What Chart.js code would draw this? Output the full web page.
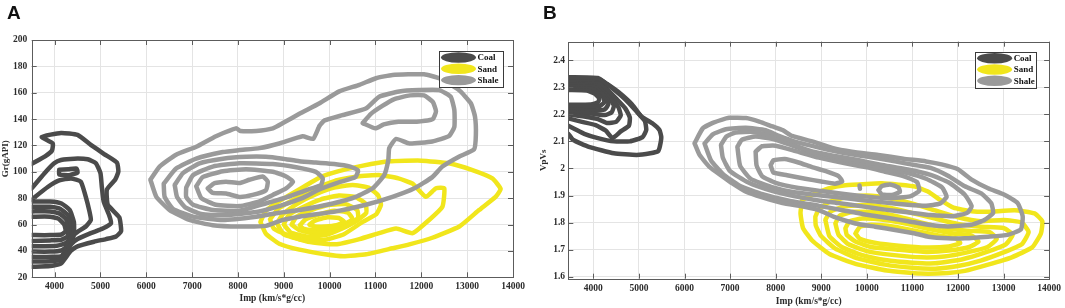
<!DOCTYPE html>
<html><head><meta charset="utf-8">
<script src="https://cdn.jsdelivr.net/npm/chart.js@4.4.1/dist/chart.umd.min.js"></script>
<style>
html,body{margin:0;padding:0;background:#fff;overflow:hidden}
#wrap{position:relative;width:1065px;height:308px;background:#fff}
canvas{position:absolute;top:0}
#cA{left:0}
#cB{left:530px}
</style></head><body>
<div id="wrap"><canvas id="cA" width="530" height="308"></canvas><canvas id="cB" width="535" height="308"></canvas></div>
<script>
// ---------- data ----------
const groups = ['Coal', 'Sand', 'Shale'];
const xTicks = [4000, 5000, 6000, 7000, 8000, 9000, 10000, 11000, 12000, 13000, 14000];
const yTicksA = [20, 40, 60, 80, 100, 120, 140, 160, 180, 200];
const yTicksB = [1.6, 1.7, 1.8, 1.9, 2.0, 2.1, 2.2, 2.3, 2.4];
const xTitle = 'Imp (km/s*g/cc)';
const yTitleA = 'Gr(gAPI)';
const yTitleB = 'VpVs';

// Panel A - Coal contours [Imp, Gr]
const coalA1 = [[3500,106],[3800,112],[3940,116],[3960,121.5],[3720,126.5],[4140,129.5],[4500,128],[4790,120.5],[5080,113.5],[5360,107],[5390,100],[5320,94],[5140,86.5],[5160,75],[5410,65.5],[5450,55],[5340,51],[5120,49],[4860,47],[4500,43.5],[4350,40],[4140,30.5],[3900,28.5],[3500,28]];
const coalA2 = [[3500,87.5],[3780,99],[3990,106.5],[4140,109],[4430,110],[4720,109.5],[4900,106.5],[5000,99],[5030,88.5],[5070,77.5],[5190,67],[5230,61],[5050,57],[4790,53.5],[4500,49],[4360,45],[4250,38],[4100,33],[3800,32],[3500,32]];
const coalA3 = [[4100,101.5],[4300,102],[4480,102.5],[4500,99.5],[4320,97.5],[4100,98],[4100,101.5]];
const coalA4 = [[3500,79],[3850,88.5],[4100,93.5],[4360,95],[4570,92.5],[4680,81],[4760,70],[4790,63.5],[4680,58.5],[4500,54.5],[4360,50.5],[4250,42],[4150,36],[3950,35.5],[3500,35.5]];
const coalA5 = [[3500,77.5],[3900,77.5],[4150,76],[4330,71],[4420,62],[4420,52],[4330,45],[4150,40.5],[3900,39.5],[3500,39.5]];
const coalA6 = [[3500,73.5],[3900,73.5],[4120,72],[4290,67],[4370,59],[4360,50.5],[4250,46],[4050,44],[3500,43.5]];
const coalA7 = [[3500,70],[3900,70],[4100,68.5],[4250,64],[4310,57],[4280,51],[4150,48.5],[3900,48],[3500,47.5]];
const coalA8 = [[3500,66],[3900,66],[4080,64.5],[4210,60],[4240,55],[4150,52.5],[3900,52],[3500,52]];

// Panel A - Sand contours
const sandA1 = [[8490,62],[8600,70],[8800,75.5],[9100,82],[9400,88],[9800,96],[10200,100.5],[10700,104.5],[11300,108],[12000,108.5],[12600,106.5],[13100,101.5],[13550,95],[13730,87],[13620,81],[13260,71],[12830,58.5],[12240,50],[11740,45],[11370,42],[10800,37.5],[10300,36],[9900,37.5],[9340,41],[8900,45.5],[8610,53],[8490,62]];
const sandA2 = [[8700,64],[8880,72],[9300,80.5],[9700,87.5],[10100,93],[10600,96.5],[11100,97.5],[11500,95],[11810,91],[12100,81],[12320,87.5],[12500,87.5],[12460,73.5],[12170,63.5],[11810,53.5],[11450,57],[11080,53.5],[10650,49],[10130,45],[9530,47],[9090,52],[8780,57],[8700,64]];
const sandA3 = [[8850,61],[8980,68],[9300,76],[9700,83],[10100,88],[10500,90],[10850,88],[11060,82],[11120,75],[11020,68],[10720,62],[10300,52.5],[9900,48.5],[9400,48.5],[9000,52.5],[8850,61]];
const sandA4 = [[9000,60],[9100,67],[9400,73],[9800,79],[10200,82],[10550,81],[10780,76],[10800,69],[10600,63],[10300,57.5],[9900,52],[9500,51],[9150,54],[9000,60]];
const sandA5 = [[9170,60],[9280,66],[9600,71],[10000,75],[10350,75.5],[10600,71],[10620,65],[10400,60],[10050,55],[9650,53.5],[9330,56],[9170,60]];
const sandA6 = [[9350,59.5],[9480,64],[9800,68],[10100,70.5],[10400,69],[10500,64],[10300,60],[10000,57],[9650,56],[9420,57],[9350,59.5]];
const sandA7 = [[9560,60],[9680,63],[9950,65.5],[10200,65],[10320,62],[10150,59.5],[9900,58.5],[9680,58.5],[9560,60]];

// Panel A - Shale contours
const shaleA1 = [[6090,94],[6290,104],[6650,113],[7090,119],[7520,127],[7960,133],[8050,131],[8400,131],[8760,133],[8980,137],[9340,144],[9780,152],[10210,161],[10650,166],[11010,171],[11370,173.5],[12060,174],[12390,171],[12820,162],[13080,152],[13170,142],[13190,128],[13150,117],[12820,111.5],[12460,104],[12240,96],[11850,87.5],[11370,81],[10790,75],[10140,70],[9340,66],[8980,63.5],[8610,59],[8030,58.5],[7450,59.5],[6940,63.5],[6510,71],[6220,81],[6090,94]];
const shaleA2 = [[6380,91],[6650,102.5],[7090,110],[7670,115],[8030,116.5],[8470,118],[8900,121.5],[9410,127],[9640,125],[9780,135],[9890,139],[10280,143],[10790,148],[11080,157],[11520,161],[11950,162],[12390,162],[12640,157],[12720,147],[12720,134],[12600,127],[12240,123],[11740,121.5],[11450,125],[11300,118],[11280,109],[11190,97.5],[10940,87.5],[10570,81],[10070,76],[9340,71],[8900,69],[8400,66],[7670,63.5],[7020,66],[6580,72],[6400,81],[6380,91]];
const shaleA3 = [[10720,137],[10900,144],[11150,150],[11400,155],[11750,158],[12060,158],[12250,153],[12320,146],[12250,140],[11900,138],[11500,138],[11180,136],[11000,133],[10720,137]];
const shaleA4 = [[6620,90],[6800,99],[7160,106.5],[7670,110],[8180,111.5],[8610,111.5],[8980,110],[9340,108],[9700,107],[10100,106],[10450,104],[10620,101],[10560,96],[10200,92],[9800,87],[9400,80],[8900,74],[8400,69.5],[7670,67],[7200,68],[6850,73],[6670,81],[6620,90]];
const shaleA5 = [[6870,88],[7020,97.5],[7450,104],[8030,106.5],[8760,106],[9270,103.5],[9700,100],[9850,95],[9810,90],[9480,86],[9000,80],[8600,76],[8030,70.5],[7450,71],[7020,75],[6870,81],[6870,88]];
const shaleA6 = [[7090,89],[7230,96],[7670,100.5],[8180,102],[8760,100],[9050,96.5],[9200,92.5],[9050,87.5],[8760,82.5],[8470,77.5],[8030,74],[7520,75],[7200,80],[7090,89]];
const shaleA7 = [[7340,87.5],[7490,91.5],[7740,92.5],[8030,91.5],[8250,94],[8540,96.5],[8650,92.5],[8610,86],[8320,82.5],[8030,81],[7740,83.5],[7450,84],[7340,87.5]];

// Panel B - Coal contours [Imp, VpVs]
const coalB1 = [[3450,2.337],[4100,2.334],[4300,2.312],[4550,2.282],[4850,2.236],[5050,2.192],[5300,2.166],[5450,2.142],[5490,2.116],[5460,2.082],[5420,2.064],[5250,2.056],[4950,2.05],[4450,2.056],[3900,2.08],[3560,2.105],[3450,2.128]];
const coalB2 = [[3450,2.331],[4150,2.328],[4400,2.298],[4700,2.255],[4950,2.21],[5130,2.175],[5160,2.142],[5080,2.116],[4800,2.1],[4450,2.1],[4100,2.112],[3800,2.128],[3600,2.145],[3450,2.158]];
const coalB3 = [[3450,2.325],[4100,2.322],[4300,2.292],[4500,2.258],[4700,2.222],[4800,2.188],[4780,2.158],[4600,2.137],[4420,2.112],[4270,2.14],[4050,2.16],[3750,2.172],[3450,2.185]];
const coalB4 = [[3450,2.318],[4050,2.316],[4250,2.29],[4400,2.26],[4550,2.226],[4600,2.196],[4500,2.172],[4300,2.168],[4100,2.182],[3800,2.192],[3450,2.2]];
const coalB5 = [[3450,2.311],[4000,2.309],[4200,2.288],[4350,2.26],[4450,2.232],[4400,2.207],[4250,2.197],[4000,2.202],[3450,2.21]];
const coalB6 = [[3450,2.304],[3950,2.302],[4150,2.286],[4280,2.262],[4330,2.238],[4250,2.218],[4000,2.214],[3450,2.218]];
const coalB7 = [[3450,2.297],[3900,2.295],[4100,2.282],[4220,2.262],[4240,2.244],[4130,2.23],[3900,2.226],[3450,2.226]];
const coalB8 = [[3450,2.29],[3850,2.288],[4030,2.276],[4130,2.258],[4100,2.244],[3950,2.236],[3450,2.235]];

// Panel B - Sand contours
const sandB1 = [[8580,1.883],[8800,1.902],[9160,1.926],[9530,1.938],[10000,1.943],[10330,1.945],[10700,1.94],[11060,1.933],[11350,1.914],[11600,1.885],[11900,1.855],[12300,1.842],[12660,1.84],[13240,1.846],[13680,1.834],[13850,1.805],[13820,1.76],[13630,1.709],[13180,1.672],[12660,1.645],[12150,1.622],[11780,1.614],[11180,1.612],[10440,1.623],[9770,1.647],[9180,1.684],[8800,1.734],[8600,1.78],[8545,1.835],[8580,1.883]];
const sandB2 = [[8870,1.822],[8950,1.85],[9200,1.878],[9600,1.895],[10000,1.9],[10500,1.89],[11000,1.87],[11500,1.845],[12000,1.82],[12500,1.805],[13000,1.81],[13400,1.8],[13550,1.765],[13400,1.72],[13000,1.69],[12500,1.66],[12000,1.64],[11500,1.63],[11000,1.633],[10400,1.645],[9800,1.668],[9300,1.705],[9000,1.75],[8880,1.79],[8870,1.822]];
const sandB3 = [[9090,1.81],[9200,1.84],[9500,1.86],[10000,1.865],[10500,1.855],[11000,1.835],[11500,1.815],[12000,1.795],[12500,1.785],[13000,1.78],[13200,1.755],[13050,1.72],[12600,1.69],[12100,1.665],[11500,1.65],[11000,1.652],[10400,1.662],[9900,1.68],[9450,1.71],[9180,1.75],[9090,1.81]];
const sandB4 = [[9310,1.797],[9400,1.825],[9700,1.84],[10200,1.838],[10700,1.822],[11200,1.8],[11700,1.78],[12200,1.77],[12700,1.765],[12850,1.74],[12650,1.71],[12200,1.69],[11700,1.675],[11200,1.672],[10600,1.68],[10000,1.695],[9600,1.72],[9380,1.755],[9310,1.797]];
const sandB5 = [[9530,1.779],[9620,1.805],[9900,1.815],[10400,1.81],[10900,1.795],[11400,1.775],[11900,1.76],[12300,1.752],[12450,1.73],[12250,1.71],[11800,1.697],[11300,1.692],[10700,1.7],[10100,1.71],[9750,1.73],[9560,1.755],[9530,1.779]];
const sandB6 = [[9750,1.76],[9850,1.785],[10100,1.792],[10600,1.785],[11100,1.768],[11600,1.752],[11950,1.742],[12050,1.725],[11800,1.712],[11300,1.708],[10700,1.715],[10200,1.725],[9850,1.74],[9750,1.76]];

// Panel B - Shale contours
const shaleB1 = [[6220,2.093],[6400,2.148],[6620,2.168],[6980,2.187],[7350,2.186],[7640,2.173],[7930,2.155],[8150,2.142],[8360,2.12],[8800,2.1],[9240,2.076],[9670,2.062],[10250,2.05],[10800,2.036],[11300,2.026],[11640,2.015],[12000,1.997],[12290,1.96],[12660,1.927],[13020,1.903],[13310,1.872],[13420,1.823],[13380,1.775],[13090,1.755],[12660,1.748],[12150,1.742],[11780,1.742],[11350,1.748],[11060,1.76],[10620,1.773],[10180,1.785],[9750,1.797],[9300,1.82],[8950,1.846],[8580,1.86],[8150,1.872],[7710,1.893],[7350,1.914],[7050,1.945],[6840,1.97],[6540,2.007],[6330,2.05],[6220,2.093]];
const shaleB2 = [[6440,2.092],[6620,2.126],[6910,2.145],[7345,2.15],[7780,2.141],[8070,2.12],[8440,2.098],[8950,2.077],[9530,2.056],[10000,2.044],[10330,2.035],[10900,2.017],[11400,2.002],[11780,1.973],[12150,1.934],[12510,1.908],[12730,1.872],[12770,1.835],[12580,1.81],[12290,1.792],[11780,1.786],[11350,1.792],[10910,1.805],[10470,1.817],[9960,1.83],[9500,1.845],[8950,1.862],[8290,1.881],[7710,1.905],[7200,1.937],[6840,1.98],[6580,2.03],[6440,2.092]];
const shaleB3 = [[6800,2.087],[6920,2.118],[7120,2.133],[7500,2.135],[7900,2.122],[8300,2.093],[8800,2.063],[9300,2.046],[9800,2.031],[10300,2.014],[10900,1.996],[11400,1.976],[11800,1.948],[12150,1.903],[12300,1.86],[12200,1.836],[11900,1.824],[11400,1.828],[10900,1.838],[10400,1.848],[9900,1.86],[9400,1.872],[8900,1.883],[8400,1.898],[7900,1.918],[7400,1.948],[7000,1.99],[6840,2.04],[6800,2.087]];
const shaleB4 = [[7160,2.08],[7260,2.106],[7560,2.118],[8000,2.106],[8440,2.08],[8950,2.052],[9500,2.033],[10000,2.017],[10400,2.0],[10900,1.983],[11300,1.962],[11650,1.93],[11750,1.895],[11600,1.87],[11300,1.862],[10900,1.866],[10400,1.874],[9900,1.883],[9400,1.893],[8900,1.902],[8400,1.912],[7900,1.932],[7450,1.962],[7220,2.01],[7160,2.08]];
const shaleB5 = [[7560,2.062],[7700,2.082],[8000,2.084],[8440,2.064],[8950,2.04],[9500,2.02],[10000,2.004],[10400,1.988],[10800,1.972],[11100,1.95],[11150,1.918],[10950,1.897],[10500,1.89],[10000,1.896],[9500,1.906],[9000,1.917],[8500,1.928],[8000,1.947],[7700,1.972],[7580,2.012],[7560,2.062]];
const shaleB6 = [[7890,2.012],[7950,2.03],[8200,2.035],[8500,2.022],[8800,2.005],[9100,1.99],[9380,1.972],[9460,1.952],[9300,1.944],[9000,1.952],[8650,1.962],[8250,1.975],[7950,1.985],[7890,2.012]];
const shaleB7 = [[10255,1.92],[10330,1.935],[10510,1.941],[10690,1.93],[10730,1.914],[10550,1.902],[10330,1.904],[10255,1.92]];
const shaleB8 = [[9840,1.937],[9850,1.925]];

const coalA = [coalA1, coalA2, coalA3, coalA4, coalA5, coalA6, coalA7, coalA8];
const sandA = [sandA1, sandA2, sandA3, sandA4, sandA5, sandA6, sandA7];
const shaleA = [shaleA1, shaleA2, shaleA3, shaleA4, shaleA5, shaleA6, shaleA7];
const coalB = [coalB1, coalB2, coalB3, coalB4, coalB5, coalB6, coalB7, coalB8];
const sandB = [sandB1, sandB2, sandB3, sandB4, sandB5, sandB6];
const shaleB = [shaleB1, shaleB2, shaleB3, shaleB4, shaleB5, shaleB6, shaleB7, shaleB8];

// ---------- styles ----------
const COLORS = { Coal: '#4b4b4b', Sand: '#f1e61c', Shale: '#9a9a9a' };
const ORDER = { Shale: 0, Sand: 1, Coal: 2 };
const SERIF = '"Liberation Serif", "Times New Roman", serif';
const TXT = '#2b2b2b';

function contourSets(list, name) {
  return list.map(pts => ({
    label: name,
    data: pts.map(p => ({ x: p[0], y: p[1] })),
    showLine: true,
    borderColor: COLORS[name],
    backgroundColor: COLORS[name],
    borderWidth: 4.5,
    pointRadius: 0,
    pointHoverRadius: 0,
    fill: false,
    tension: 0.15,
    borderJoinStyle: 'round',
    borderCapStyle: 'round',
    order: ORDER[name]
  }));
}

const framePlugin = {
  id: 'frame',
  afterDatasetsDraw(chart, args, o) {
    const { ctx, chartArea: a, scales: { x, y } } = chart;
    ctx.save();
    // ticks inward on four sides
    ctx.strokeStyle = '#5c5c5c';
    ctx.lineWidth = 1;
    const L = 5;
    ctx.beginPath();
    x.ticks.forEach(t => {
      const px = Math.round(x.getPixelForValue(t.value)) + 0.5;
      ctx.moveTo(px, a.bottom); ctx.lineTo(px, a.bottom - L);
      ctx.moveTo(px, a.top); ctx.lineTo(px, a.top + L);
    });
    y.ticks.forEach(t => {
      const py = Math.round(y.getPixelForValue(t.value)) + 0.5;
      ctx.moveTo(a.left, py); ctx.lineTo(a.left + L, py);
      ctx.moveTo(a.right, py); ctx.lineTo(a.right - L, py);
    });
    ctx.stroke();
    ctx.strokeRect(Math.round(a.left) + 0.5, Math.round(a.top) + 0.5,
                   Math.round(a.right - a.left), Math.round(a.bottom - a.top));

    // legend box
    const bw = o.legendW, bh = 36;
    const bx = a.right - o.legendRight - bw, by = a.top + o.legendTop;
    ctx.fillStyle = '#ffffff';
    ctx.fillRect(bx, by, bw, bh);
    ctx.strokeStyle = '#3a3a3a';
    ctx.lineWidth = 1;
    ctx.strokeRect(Math.round(bx) + 0.5, Math.round(by) + 0.5, Math.round(bw), bh);
    ctx.font = 'bold 9px ' + SERIF;
    ctx.textBaseline = 'middle';
    ctx.textAlign = 'left';
    groups.forEach((g, i) => {
      const cy = by + 6.5 + i * 11.3;
      ctx.fillStyle = COLORS[g];
      ctx.beginPath();
      ctx.ellipse(bx + 19.5, cy, 17.5, 5.2, 0, 0, Math.PI * 2);
      ctx.fill();
      ctx.fillStyle = '#111';
      ctx.fillText(g, bx + 38.5, cy + 0.5);
    });

    // panel letter
    ctx.fillStyle = '#111';
    ctx.font = 'bold 19px "Liberation Sans", Arial, sans-serif';
    ctx.textBaseline = 'alphabetic';
    ctx.fillText(o.letter, o.letterX, 18.5);
    ctx.restore();
  }
};

function makeChart(id, c) {
  const datasets = [
    ...contourSets(c.shale, 'Shale'),
    ...contourSets(c.sand, 'Sand'),
    ...contourSets(c.coal, 'Coal')
  ];
  const tickFont = { family: SERIF, weight: 'bold', size: 9.5 };
  return new Chart(document.getElementById(id), {
    type: 'scatter',
    data: { datasets },
    options: {
      responsive: false,
      animation: false,
      devicePixelRatio: 1,
      events: [],
      layout: { padding: { left: 0, right: c.padRight, top: c.padTop, bottom: 0 } },
      plugins: {
        legend: { display: false },
        tooltip: { enabled: false },
        frame: { letter: c.letter, letterX: c.letterX, legendRight: c.legendRight, legendTop: c.legendTop, legendW: c.legendW }
      },
      scales: {
        x: {
          type: 'linear', position: 'bottom', min: c.xMin, max: c.xMax,
          afterBuildTicks: s => { s.ticks = xTicks.map(v => ({ value: v })); },
          afterFit: s => { s.height = c.xH; },
          grid: { color: '#e4e4e4', lineWidth: 1, drawTicks: false },
          border: { display: false },
          ticks: { padding: 4, color: TXT, font: tickFont, maxRotation: 0, autoSkip: false,
                   callback: v => String(v) },
          title: { display: true, text: xTitle, color: TXT, font: { family: SERIF, weight: 'bold', size: 9.5 },
                   padding: { top: 0, bottom: c.xTitlePad } }
        },
        y: {
          type: 'linear', position: 'left', min: c.yMin, max: c.yMax,
          afterBuildTicks: s => { s.ticks = c.yTicks.map(v => ({ value: v })); },
          afterFit: s => { s.width = c.yW; },
          grid: { color: '#e4e4e4', lineWidth: 1, drawTicks: false },
          border: { display: false },
          ticks: { padding: c.yTickPad, color: TXT, font: tickFont, autoSkip: false,
                   callback: v => String(Math.round(v * 10) / 10) },
          title: { display: true, text: c.yTitle, color: TXT, font: { family: SERIF, weight: 'bold', size: 9 },
                   padding: { top: c.yTitlePad, bottom: 0 } }
        }
      }
    },
    plugins: [framePlugin]
  });
}

makeChart('cA', {
  coal: coalA, sand: sandA, shale: shaleA,
  xMin: 3500, xMax: 14000, yMin: 20, yMax: 200, yTicks: yTicksA, yTitle: yTitleA,
  padRight: 17, padTop: 40, xH: 30.7, yW: 31.7, yTickPad: 4.4, xTitlePad: 3.3, yTitlePad: 0,
  letter: 'A', letterX: 7, legendRight: 10, legendTop: 11, legendW: 64
});
makeChart('cB', {
  coal: coalB, sand: sandB, shale: shaleB,
  xMin: 3450, xMax: 14000, yMin: 1.593, yMax: 2.468, yTicks: yTicksB, yTitle: yTitleB,
  padRight: 14.5, padTop: 41.7, xH: 29.3, yW: 38.3, yTickPad: 3.3, xTitlePad: 0.6, yTitlePad: 8,
  letter: 'B', letterX: 13, legendRight: 13, legendTop: 10, legendW: 61
});
</script>
</body></html>
